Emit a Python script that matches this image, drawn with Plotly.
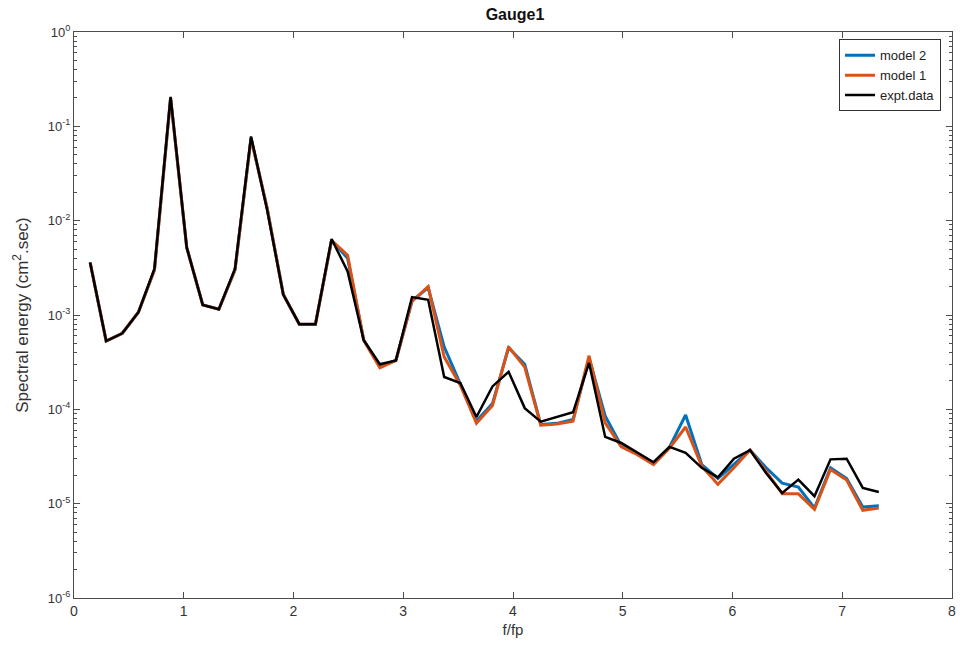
import plotly.graph_objects as go

f_fp = [0.147, 0.293, 0.44, 0.587, 0.733, 0.88, 1.027, 1.173, 1.32, 1.467,
        1.613, 1.76, 1.907, 2.053, 2.2, 2.347, 2.493, 2.64, 2.787, 2.933,
        3.08, 3.227, 3.373, 3.52, 3.667, 3.813, 3.96, 4.107, 4.253, 4.4,
        4.547, 4.693, 4.84, 4.987, 5.133, 5.28, 5.427, 5.573, 5.72, 5.867,
        6.013, 6.16, 6.307, 6.453, 6.6, 6.747, 6.893, 7.04, 7.187, 7.333]

expt_data = [3.6e-3, 5.3e-4, 6.4e-4, 1.07e-3, 3.1e-3, 0.205, 5.2e-3, 1.28e-3, 1.15e-3, 3.1e-3,
             0.078, 1.3e-2, 1.65e-3, 8.0e-4, 8.0e-4, 6.4e-3, 2.9e-3, 5.4e-4, 3.0e-4, 3.3e-4,
             1.55e-3, 1.45e-3, 2.2e-4, 1.9e-4, 8.3e-5, 1.75e-4, 2.5e-4, 1.03e-4, 7.4e-5, 8.3e-5,
             9.3e-5, 3.1e-4, 5.1e-5, 4.4e-5, 3.5e-5, 2.75e-5, 4.0e-5, 3.45e-5, 2.4e-5, 1.9e-5,
             3.0e-5, 3.7e-5, 2.1e-5, 1.3e-5, 1.8e-5, 1.2e-5, 2.95e-5, 3.0e-5, 1.47e-5, 1.33e-5]

model1 = [3.6e-3, 5.3e-4, 6.4e-4, 1.07e-3, 3.0e-3, 0.2, 5.2e-3, 1.28e-3, 1.15e-3, 3.0e-3,
          0.075, 1.35e-2, 1.65e-3, 8.0e-4, 8.0e-4, 6.2e-3, 4.3e-3, 5.4e-4, 2.75e-4, 3.3e-4,
          1.4e-3, 2.0e-3, 3.6e-4, 1.8e-4, 7.1e-5, 1.1e-4, 4.6e-4, 2.8e-4, 6.8e-5, 7.0e-5,
          7.5e-5, 3.7e-4, 7.2e-5, 4.0e-5, 3.3e-5, 2.6e-5, 3.9e-5, 6.5e-5, 2.5e-5, 1.6e-5,
          2.4e-5, 3.7e-5, 2.2e-5, 1.27e-5, 1.27e-5, 8.7e-6, 2.3e-5, 1.78e-5, 8.5e-6, 9.0e-6]

model2 = [3.6e-3, 5.3e-4, 6.4e-4, 1.07e-3, 3.0e-3, 0.2, 5.2e-3, 1.28e-3, 1.15e-3, 3.0e-3,
          0.075, 1.35e-2, 1.65e-3, 8.0e-4, 8.0e-4, 6.2e-3, 4.0e-3, 5.4e-4, 2.85e-4, 3.3e-4,
          1.4e-3, 1.95e-3, 4.6e-4, 1.85e-4, 7.5e-5, 1.15e-4, 4.5e-4, 3.0e-4, 6.9e-5, 7.1e-5,
          7.8e-5, 3.5e-4, 8.5e-5, 4.1e-5, 3.4e-5, 2.7e-5, 4.0e-5, 8.7e-5, 2.6e-5, 1.85e-5,
          2.6e-5, 3.7e-5, 2.4e-5, 1.65e-5, 1.5e-5, 9.0e-6, 2.4e-5, 1.85e-5, 9.2e-6, 9.5e-6]

y_tickvals = [1e-6, 1e-5, 1e-4, 1e-3, 1e-2, 1e-1, 1]
y_ticktext = ["10<sup>-6</sup>", "10<sup>-5</sup>", "10<sup>-4</sup>", "10<sup>-3</sup>",
              "10<sup>-2</sup>", "10<sup>-1</sup>", "10<sup>0</sup>"]
x_tickvals = [0, 1, 2, 3, 4, 5, 6, 7, 8]

axis_color = "#4d4d4d"
font_fam = "Liberation Sans, Arial, sans-serif"

fig = go.Figure()
fig.add_trace(go.Scatter(x=f_fp, y=model2, mode="lines", name="model 2",
                         line=dict(color="#0072BD", width=3)))
fig.add_trace(go.Scatter(x=f_fp, y=model1, mode="lines", name="model 1",
                         line=dict(color="#D95319", width=3)))
fig.add_trace(go.Scatter(x=f_fp, y=expt_data, mode="lines", name="expt.data",
                         line=dict(color="#000000", width=2.5)))

fig.update_layout(
    width=962, height=647,
    margin=dict(l=74, r=6, t=32, b=49),
    paper_bgcolor="white", plot_bgcolor="white",
    font=dict(family=font_fam, size=12, color="#333333"),
    title=dict(text="<b>Gauge1</b>", x=(74 + 882 / 2) / 962, xanchor="center",
               y=1 - 14 / 647, yanchor="middle",
               font=dict(size=16, color="#111111", family=font_fam)),
    legend=dict(x=0.9875, y=0.987, xanchor="right", yanchor="top",
                bordercolor="#333333", borderwidth=1, bgcolor="white",
                font=dict(size=13, color="#222222"),
                tracegroupgap=0, itemwidth=30),
    showlegend=True,
)

fig.update_xaxes(
    range=[0, 8], tickvals=x_tickvals, ticks="inside", ticklen=6,
    showline=True, linecolor=axis_color, linewidth=1, mirror="allticks",
    tickcolor=axis_color, showgrid=False, zeroline=False,
    title=dict(text="f/fp", font=dict(size=15, color="#333333"), standoff=6),
    tickfont=dict(size=14, color="#333333"),
)
fig.update_yaxes(
    type="log", range=[-6, 0], tickvals=y_tickvals, ticktext=y_ticktext,
    ticks="inside", ticklen=6,
    showline=True, linecolor=axis_color, linewidth=1, mirror="allticks",
    tickcolor=axis_color, showgrid=False, zeroline=False,
    minor=dict(ticks="inside", ticklen=3, tickcolor=axis_color, dtick="D1", showgrid=False),
    title=dict(text="Spectral energy (cm<sup>2</sup>.sec)", font=dict(size=17, color="#333333"),
               standoff=14),
    tickfont=dict(size=13, color="#333333"),
)

fig.write_html("out.html")
